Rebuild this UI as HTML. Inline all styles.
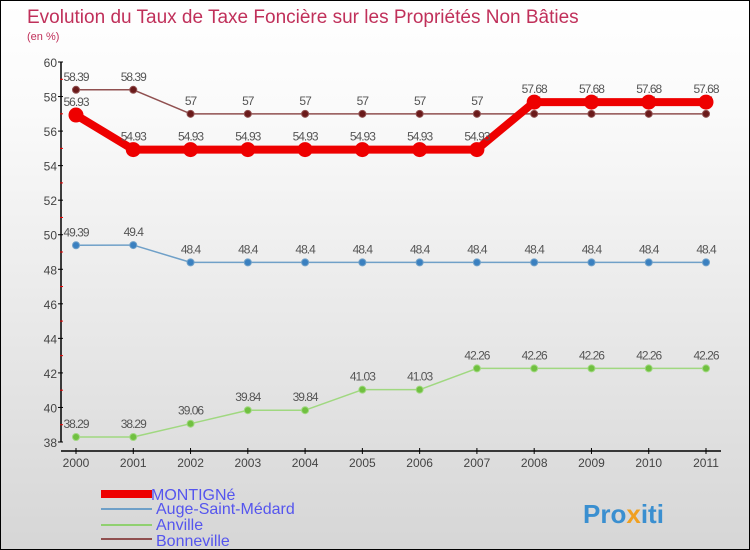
<!DOCTYPE html>
<html><head><meta charset="utf-8"><style>
body{margin:0}
#c{width:748px;height:548px;border:1px solid #000;background:linear-gradient(#fff,#fafafa 20%,#d6d6d6);position:relative;font-family:"Liberation Sans",sans-serif;overflow:hidden}
svg text{font-family:"Liberation Sans",sans-serif}
</style></head><body>
<div id="c">
<svg id="s" width="748" height="548">
<text x="26" y="22" font-size="19" fill="#c0305a">Evolution du Taux de Taxe Foncière sur les Propriétés Non Bâties</text>
<text x="26" y="39" font-size="11" fill="#c0305a">(en %)</text>
<text x="150" y="499" font-size="16" fill="#5555ee">MONTIGNé</text>
<text x="155" y="513" font-size="16" fill="#5555ee">Auge-Saint-Médard</text>
<text x="155" y="529" font-size="16" fill="#5555ee">Anville</text>
<text x="155" y="545" font-size="16" fill="#5555ee">Bonneville</text>
<rect x="100" y="489" width="51" height="8" fill="#e00"/>
<rect x="100" y="507" width="51" height="2" fill="#6fa0c8"/>
<rect x="100" y="523" width="51" height="2" fill="#90d070"/>
<rect x="100" y="537" width="51" height="2" fill="#905050"/>
<text x="582" y="522" font-size="26" font-weight="bold" fill="#3a8fd0">Pro<tspan fill="#f0a020">x</tspan>iti</text>
</svg>
</div>
<script>
const years=[2000,2001,2002,2003,2004,2005,2006,2007,2008,2009,2010,2011];
const yTicks=[38,40,42,44,46,48,50,52,54,56,58,60];
const montigne=[56.93,54.93,54.93,54.93,54.93,54.93,54.93,54.93,57.68,57.68,57.68,57.68];
const auge=[49.39,49.4,48.4,48.4,48.4,48.4,48.4,48.4,48.4,48.4,48.4,48.4];
const anville=[38.29,38.29,39.06,39.84,39.84,41.03,41.03,42.26,42.26,42.26,42.26,42.26];
const bonneville=[58.39,58.39,57,57,57,57,57,57,57,57,57,57];
const s=document.getElementById('s'),NS='http://www.w3.org/2000/svg';
const X=i=>75+i*(630/11), Y=v=>441-(v-38)*(380/22);
function mk(t,a,p){const e=document.createElementNS(NS,t);for(const k in a)e.setAttribute(k,a[k]);(p||s).appendChild(e);return e;}
let ax=mk('line',{x1:60,y1:Y(60),x2:60,y2:Y(38),stroke:'#000','stroke-width':1.5});


let xa=mk('line',{x1:60,y1:450,x2:720,y2:450,stroke:'#000','stroke-width':1.5});


const yMax=yTicks[yTicks.length-1];
yTicks.forEach(v=>{
 mk('line',{x1:57,x2:62,y1:Y(v),y2:Y(v),stroke:'#000'});
 if(v<yMax) mk('line',{x1:59,x2:62,y1:Y(v+1),y2:Y(v+1),stroke:'#e00'});
 const t=mk('text',{x:56,y:Y(v)+5,'font-size':12,fill:'#444','text-anchor':'end'});t.textContent=v;
 
 
});
years.forEach((y,i)=>{
 mk('line',{x1:X(i),x2:X(i),y1:447,y2:453,stroke:'#000'});
 const t=mk('text',{x:X(i),y:466,'font-size':12,fill:'#444','text-anchor':'middle'});t.textContent=y;
 
 
});
function series(d,col,w,r,name,dark){
 const g=mk('g',{});
 
 
 mk('polyline',{points:d.map((v,i)=>X(i)+','+Y(v)).join(' '),fill:'none',stroke:col,'stroke-width':w,'stroke-linejoin':'round'},g);
 d.forEach((v,i)=>{
  const c=mk('circle',{cx:X(i),cy:Y(v),r:r,fill:dark,stroke:col,'stroke-width':1},g);
  
  
  const t=mk('text',{x:X(i),y:Y(v)-9,'font-size':12,fill:'#555','text-anchor':'middle','letter-spacing':'-1'},g);
  t.textContent=v;
 });
}
series(bonneville,'#905050',1.5,3.5,'bonneville','#6a1a1a');
series(auge,'#6fa0c8',1.5,3.5,'auge','#3a80c0');
series(anville,'#a0d880',1.5,3.5,'anville','#70c040');
series(montigne,'#ee0000',8,7,'montigne','#ee0000');
</script>
</body></html>
